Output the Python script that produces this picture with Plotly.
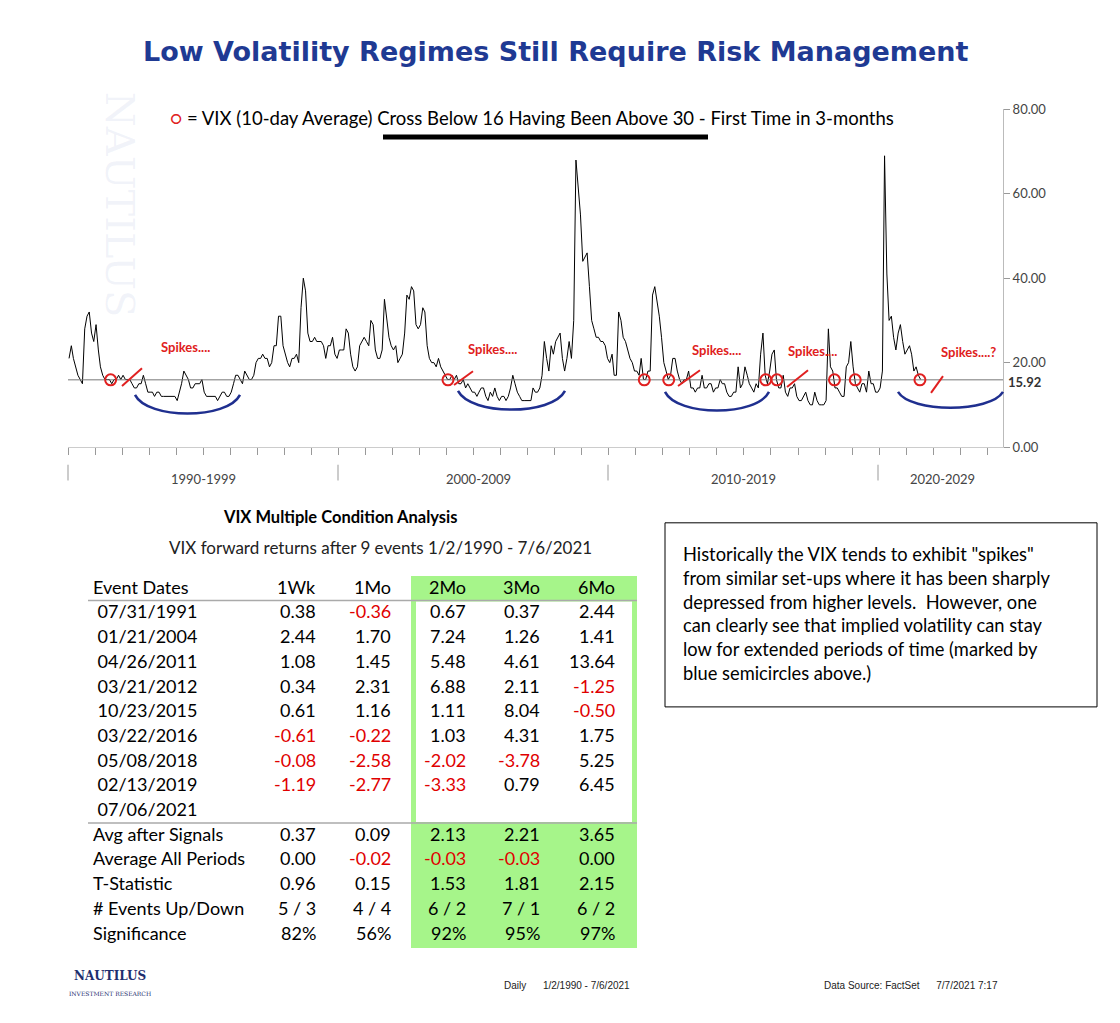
import plotly.graph_objects as go

W, H = 1120, 1023

# VIX 10-day average, monthly readings (approx) 1990 -> Jul 2021
vix_by_year = {
    1990: [21, 24, 21, 19, 17, 16, 15, 28, 31, 32, 27, 25],
    1991: [29, 23, 19, 17, 16, 16, 16, 15, 16, 16, 17, 16],
    1992: [17, 16, 16, 16, 15, 14, 14, 15, 15, 17, 15, 13],
    1993: [13, 13, 12, 13, 13, 12, 12, 12, 12, 12, 12, 12],
    1994: [11, 13, 15, 18, 17, 16, 14, 14, 15, 15, 15, 16],
    1995: [13, 12, 12, 12, 12, 12, 11, 12, 13, 13, 12, 12],
    1996: [13, 15, 17, 17, 16, 15, 18, 17, 16, 16, 17, 20],
    1997: [21, 21, 22, 21, 21, 19, 20, 24, 24, 31, 31, 24],
    1998: [22, 20, 19, 21, 21, 22, 20, 33, 40, 37, 27, 25],
    1999: [25, 26, 25, 25, 25, 24, 21, 24, 24, 26, 22, 21],
    2000: [23, 23, 23, 28, 27, 22, 19, 18, 19, 24, 25, 26],
    2001: [25, 24, 30, 29, 23, 21, 21, 23, 35, 31, 26, 24],
    2002: [23, 24, 20, 21, 22, 27, 36, 35, 38, 37, 29, 28],
    2003: [29, 33, 32, 24, 21, 20, 20, 19, 21, 19, 18, 17],
    2004: [16, 16, 17, 16, 17, 15, 15, 16, 14, 15, 14, 13],
    2005: [13, 12, 13, 14, 14, 12, 11, 13, 12, 14, 12, 11],
    2006: [12, 12, 11, 12, 14, 17, 15, 13, 12, 11, 11, 11],
    2007: [11, 11, 14, 13, 13, 14, 17, 25, 21, 18, 24, 22],
    2008: [25, 26, 27, 21, 18, 21, 25, 21, 30, 68, 62, 55],
    2009: [44, 45, 46, 38, 30, 28, 26, 26, 25, 25, 24, 21],
    2010: [20, 22, 17, 17, 32, 30, 26, 25, 23, 21, 20, 18],
    2011: [18, 17, 21, 16, 16, 18, 18, 36, 38, 35, 31, 26],
    2012: [20, 18, 16, 17, 21, 21, 18, 16, 15, 16, 16, 18],
    2013: [14, 14, 13, 14, 14, 17, 14, 14, 15, 15, 13, 14],
    2014: [14, 16, 15, 15, 13, 12, 12, 13, 13, 19, 14, 15],
    2015: [19, 17, 15, 14, 13, 15, 14, 22, 27, 17, 15, 18],
    2016: [22, 23, 16, 14, 14, 17, 13, 12, 14, 14, 15, 12],
    2017: [11, 11, 12, 13, 11, 10, 10, 13, 11, 10, 10, 10],
    2018: [11, 28, 19, 18, 14, 14, 13, 12, 12, 19, 20, 25],
    2019: [19, 15, 14, 13, 15, 15, 13, 18, 15, 15, 13, 13],
    2020: [14, 18, 69, 41, 30, 31, 26, 23, 27, 29, 25, 22],
    2021: [23, 24, 22, 18, 19, 17, 16],
}
event_dates = ["1991-07-31", "2004-01-21", "2011-04-26", "2012-03-21", "2015-10-23",
               "2016-03-22", "2018-05-08", "2019-02-13", "2021-07-06"]
threshold = 15.92

tbl_cols = ["Event Dates", "1Wk", "1Mo", "2Mo", "3Mo", "6Mo"]
tbl_events = ["07/31/1991", "01/21/2004", "04/26/2011", "03/21/2012", "10/23/2015",
              "03/22/2016", "05/08/2018", "02/13/2019", "07/06/2021"]
tbl_values = [
    ["0.38", "-0.36", "0.67", "0.37", "2.44"],
    ["2.44", "1.70", "7.24", "1.26", "1.41"],
    ["1.08", "1.45", "5.48", "4.61", "13.64"],
    ["0.34", "2.31", "6.88", "2.11", "-1.25"],
    ["0.61", "1.16", "1.11", "8.04", "-0.50"],
    ["-0.61", "-0.22", "1.03", "4.31", "1.75"],
    ["-0.08", "-2.58", "-2.02", "-3.78", "5.25"],
    ["-1.19", "-2.77", "-3.33", "0.79", "6.45"],
    ["", "", "", "", ""],
]
stat_labels = ["Avg after Signals", "Average All Periods", "T-Statistic",
               "# Events Up/Down", "Significance"]
stat_values = [
    ["0.37", "0.09", "2.13", "2.21", "3.65"],
    ["0.00", "-0.02", "-0.03", "-0.03", "0.00"],
    ["0.96", "0.15", "1.53", "1.81", "2.15"],
    ["5 / 3", "4 / 4", "6 / 2", "7 / 1", "6 / 2"],
    ["82%", "56%", "92%", "95%", "97%"],
]


def px(x):
    return x / W


def py(y):
    return 1 - y / H


dates, vals = [], []
for yr, lst in vix_by_year.items():
    for m, v in enumerate(lst):
        dates.append(f"{yr}-{m + 1:02d}-15")
        vals.append(v)

FONT = "Lato"
fig = go.Figure()
fig.add_trace(go.Scatter(x=dates, y=vals, mode="lines", line=dict(color="black", width=1),
                         hoverinfo="skip"))
fig.add_trace(go.Scatter(x=["1990-01-01", "2024-08-01"], y=[threshold, threshold], mode="lines",
                         line=dict(color="#777", width=1)))
fig.add_trace(go.Scatter(x=event_dates, y=[threshold] * len(event_dates), mode="markers",
                         marker=dict(symbol="circle-open", size=11, color="#e02020",
                                     line=dict(width=2))))

years = [f"{y}-01-01" for y in range(1990, 2025)]
fig.update_layout(
    width=W, height=H, margin=dict(l=0, r=0, t=0, b=0), showlegend=False,
    paper_bgcolor="white", plot_bgcolor="white", font=dict(family=FONT, color="black"),
    xaxis=dict(domain=[px(68), px(1003)], range=["1990-01-01", "2024-08-01"],
               tickvals=years, ticktext=[""] * len(years), ticks="outside", ticklen=7,
               tickcolor="#999", showgrid=False, zeroline=False, showline=True,
               linecolor="#ccc"),
    yaxis=dict(domain=[py(446), py(103)], range=[0, 80], side="right",
               tickvals=[0, 20, 40, 60, 80], ticktext=["0.00", "20.00", "40.00", "60.00", "80.00"],
               ticks="outside", ticklen=6, tickcolor="#999", showline=True, linecolor="#bbb",
               showgrid=False, zeroline=False, tickfont=dict(size=13, color="#444")),
)

ann = []
shapes = []


def txt(x, y, s, size=16, color="black", anchor="center", bold=False, **kw):
    ann.append(dict(x=px(x), y=py(y), xref="paper", yref="paper", text=f"<b>{s}</b>" if bold else s,
                    showarrow=False, xanchor=anchor, yanchor="middle",
                    font=dict(size=size, color=color, family=kw.pop("family", FONT)), **kw))


def line(x0, y0, x1, y1, color="black", width=1):
    shapes.append(dict(type="line", xref="paper", yref="paper", x0=px(x0), y0=py(y0),
                       x1=px(x1), y1=py(y1), line=dict(color=color, width=width)))


def rect(x0, y0, x1, y1, fill=None, color=None, width=1):
    shapes.append(dict(type="rect", xref="paper", yref="paper", x0=px(x0), y0=py(y0),
                       x1=px(x1), y1=py(y1), fillcolor=fill or "rgba(0,0,0,0)",
                       line=dict(color=color or "rgba(0,0,0,0)", width=width), layer="below"))


# titles
txt(555, 44, "Low Volatility Regimes Still Require Risk Management", size=27, color="#1f3a93",
    bold=True, family="DejaVu Sans")
txt(120, 200, "NAUTILUS", size=40, color="rgba(150,165,210,0.13)", family="DejaVu Serif",
    textangle=90)
txt(168, 112, "<span style='color:#e02020'>○</span> = VIX (10-day Average) Cross Below 16 Having Been Above 30 - First Time in 3-months",
    size=18.5, anchor="left")
line(383, 131, 708, 131, width=5)
txt(1006, 380, "15.92", size=13, color="#333", anchor="left", bold=True)
for x, s in [(203, "1990-1999"), (478, "2000-2009"), (743, "2010-2019"), (942, "2020-2029")]:
    txt(x, 478, s, size=13, color="#444")
for x in [68, 338, 608, 878]:
    line(x, 464, x, 480, color="#999")

# spikes annotations
for x, y, s in [(185, 344, "Spikes...."), (492, 346, "Spikes...."), (717, 347, "Spikes...."),
                (812, 348, "Spikes...."), (968, 349, "Spikes....?")]:
    txt(x, y, s, size=13, color="#e02020", bold=True)
for x0, y0, x1, y1 in [(122, 384, 142, 366), (454, 383, 473, 369), (678, 384, 700, 368),
                       (787, 385, 808, 368), (931, 391, 943, 374)]:
    line(x0, y0, x1, y1, color="#e02020", width=2)
for x0, x1, ytop, ybot in [(135, 240, 393, 412), (458, 565, 389, 408), (665, 769, 390, 409),
                           (898, 1003, 390, 406)]:
    d = (x1 - x0) * 0.12
    c = ybot + (ybot - ytop) / 3
    shapes.append(dict(type="path", xref="paper", yref="paper",
                       path=f"M {px(x0)} {py(ytop)} C {px(x0 + d)} {py(c)} {px(x1 - d)} {py(c)} {px(x1)} {py(ytop)}",
                       line=dict(color="#1f2f8f", width=2.5)))

# table
txt(340, 517, "VIX Multiple Condition Analysis", size=16.5, bold=True)
txt(380, 548, "VIX forward returns after 9 events 1/2/1990 - 7/6/2021", size=17, color="#222")
rect(411, 577, 637, 955, fill="#a6f58a")
rect(416, 603, 632, 827, fill="white")
line(88, 602, 637, 602, color="#aaa", width=1.5)
line(88, 828, 637, 828, color="#aaa", width=1.5)
col_x = [(91, "left"), (318, "right"), (393, "right"), (468, "right"), (542, "right"), (617, "right")]
for (x, a), c in zip(col_x, tbl_cols):
    txt(x, 588, c, size=18, anchor=a)
rows = list(zip([" " + e for e in tbl_events], tbl_values)) + list(zip(stat_labels, stat_values))
for i, (lab, vs) in enumerate(rows):
    y = 613 + i * 25.1
    txt(91, y, lab, size=18, anchor="left")
    for (x, a), v in zip(col_x[1:], vs):
        txt(x, y, v, size=18, anchor=a, color="#e00000" if v.startswith("-") else "black")

# text box
rect(665, 523, 1097, 710, color="black", width=1)
txt(681, 615, "Historically the VIX tends to exhibit \"spikes\"<br>from similar set-ups where it has been sharply<br>"
    "depressed from higher levels.  However, one<br>can clearly see that implied volatility can stay<br>"
    "low for extended periods of time (marked by<br>blue semicircles above.)", size=18.3, anchor="left",
    align="left")

# footer
txt(110, 990, "<b>NAUTILUS</b><br><span style='font-size:6px'>INVESTMENT RESEARCH</span>", size=12,
    color="#1f2f6f", family="DejaVu Serif")
txt(567, 993, "Daily      1/2/1990 - 7/6/2021", size=10, color="#222", family="Liberation Sans")
txt(1000, 993, "Data Source: FactSet      7/7/2021 7:17", size=10, color="#222", anchor="right",
    family="Liberation Sans")

fig.update_layout(annotations=ann, shapes=shapes)
fig.write_html("out.html", config={"displayModeBar": False},
               post_script="document.body.style.margin='0';")
